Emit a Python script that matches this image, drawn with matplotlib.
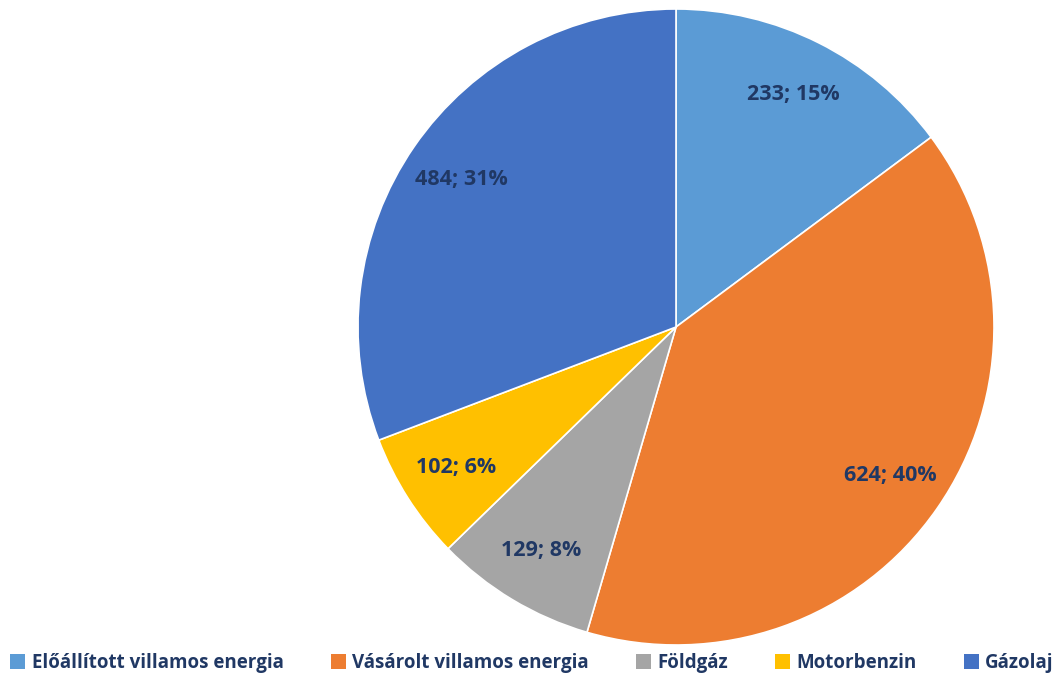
import matplotlib
matplotlib.use("Agg")
import matplotlib.pyplot as plt
from matplotlib.patches import Patch

categories = ["Előállított villamos energia", "Vásárolt villamos energia", "Földgáz", "Motorbenzin", "Gázolaj"]
values = [233, 624, 129, 102, 484]
percents = [15, 40, 8, 6, 31]
colors = ["#5B9BD5", "#ED7D31", "#A5A5A5", "#FFC000", "#4472C4"]
text_color = "#203864"

plt.rcParams['font.family'] = ['Open Sans', 'DejaVu Sans']

fig = plt.figure(figsize=(10.58, 6.77), dpi=100)
ax = fig.add_axes([358/1058, 32/677, 636/1058, 636/677])

labels = [f"{v}; {p}%" for v, p in zip(values, percents)]
wedges, texts = ax.pie(values, colors=colors, startangle=90, counterclock=False,
                       labels=labels, labeldistance=0.82,
                       wedgeprops=dict(edgecolor="white", linewidth=1.2),
                       textprops=dict(color=text_color, fontsize=15.5, fontweight="bold",
                                      ha="center", va="center"))
for t in texts:
    t.set_ha("center")
    t.set_va("center")
ax.set_aspect("equal")
ax.set_xlim(-1, 1)
ax.set_ylim(-1, 1)

handles = [Patch(facecolor=c, edgecolor="none") for c in colors]
leg = fig.legend(handles, categories, loc="center", bbox_to_anchor=(532/1058, 14/677),
                 ncol=5, frameon=False, handlelength=0.8, handleheight=0.8,
                 handletextpad=0.35, columnspacing=2.5, borderpad=0.2,
                 prop=dict(size=13.5, weight="bold"))
for t in leg.get_texts():
    t.set_color(text_color)

fig.savefig("out.png", dpi=100)
